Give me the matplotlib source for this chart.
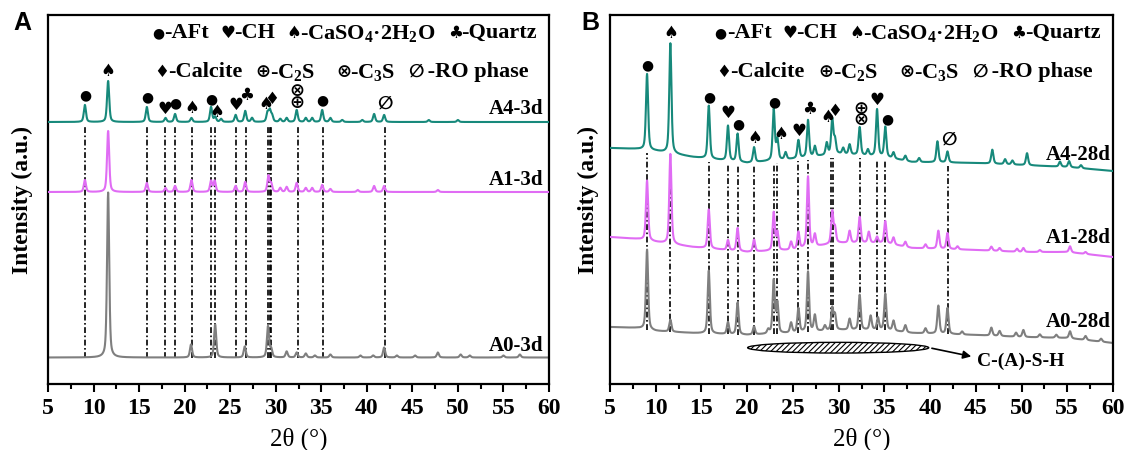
import numpy as np
import matplotlib
matplotlib.use('Agg')
from matplotlib import pyplot as plt
from matplotlib.patches import Ellipse
from matplotlib.ticker import MultipleLocator

plt.rcParams['font.family'] = ['Liberation Serif', 'DejaVu Sans']
plt.rcParams['font.weight'] = 'bold'
plt.rcParams['mathtext.fontset'] = 'custom'
plt.rcParams['mathtext.rm'] = 'Liberation Serif:bold'
plt.rcParams['mathtext.bf'] = 'Liberation Serif:bold'
plt.rcParams['mathtext.default'] = 'rm'
plt.rcParams['hatch.linewidth'] = 0.8

TEAL = '#17897b'
VIOLET = '#e06cf4'
GREY = '#7f7f7f'

TWO_THETA = np.linspace(5, 60, 5501)

# ---------------- panel A : 3 d ----------------
A4_3D_BASE = ([5, 60], [262, 262])
A4_3D_PEAKS = [(9.05, 17), (11.6, 41), (15.85, 15), (17.9, 4), (18.95, 8), (20.75, 4),
               (22.9, 15), (23.35, 5), (24.0, 3), (25.6, 7), (26.65, 11), (27.4, 4),
               (29.1, 9), (29.35, 11), (29.6, 6), (30.5, 3), (31.2, 4), (32.3, 12),
               (33.3, 4), (34.0, 4), (35.1, 12), (36.0, 4), (37.3, 2), (39.5, 2),
               (40.8, 8), (41.9, 7), (46.8, 2), (50.0, 2)]
A1_3D_BASE = ([5, 60], [192, 192])
A1_3D_PEAKS = [(9.05, 12), (11.6, 61), (15.85, 9), (17.9, 4), (18.95, 6), (20.75, 12),
               (22.9, 11), (23.3, 11), (25.6, 6), (26.65, 10), (29.2, 16), (29.5, 8),
               (30.5, 4), (31.2, 5), (32.3, 9), (33.3, 4), (34.0, 4), (35.1, 7),
               (36.0, 3), (39.0, 2), (40.8, 6), (41.9, 6), (47.8, 2)]
A0_3D_BASE = ([5, 60], [26.5, 26.5])
A0_3D_PEAKS = [(11.6, 165), (20.7, 13), (23.35, 33), (26.6, 11), (29.15, 31), (29.5, 8),
               (31.2, 6), (32.3, 5), (33.3, 4), (34.3, 2), (36.0, 3), (39.3, 2),
               (40.7, 2), (41.9, 10), (43.3, 2), (45.3, 2), (47.8, 5), (50.3, 3),
               (51.3, 2), (55.0, 2), (56.8, 3)]
A_LINES = [9.1, 15.9, 17.85, 18.9, 20.8, 22.92, 23.3, 25.64, 26.7, 29.14, 29.33, 29.53,
           32.4, 35.2, 42.0]
A_MARKS = [('●', 9.1, 289), ('♠', 11.6, 313), ('●', 15.85, 287), ('♥', 17.85, 275),
           ('●', 18.95, 281), ('♠', 20.75, 276), ('●', 22.9, 285), ('♠', 23.55, 272),
           ('♥', 25.6, 279), ('♣', 26.8, 289), ('♠', 28.95, 280), ('♦', 29.55, 285),
           ('⊗', 32.35, 293), ('⊕', 32.35, 281), ('●', 35.15, 284), ('∅', 42.0, 280)]
A_LABELS = [('A4-3d', 275), ('A1-3d', 204), ('A0-3d', 38)]

# ---------------- panel B : 28 d ----------------
BASE_X = [5, 8, 10, 14, 20, 25, 30, 35, 38, 45, 50, 55, 60]
A4_28D_BASE = (BASE_X, [236, 235, 233, 227, 221, 225, 230, 227, 222, 221, 219, 217, 213])
A4_28D_PEAKS = [(9.05, 76), (11.6, 110), (15.8, 53), (17.9, 35), (18.95, 28), (20.75, 15),
                (22.9, 51), (23.3, 20), (24.2, 7), (25.6, 18), (26.65, 37), (27.4, 10),
                (28.7, 12), (29.3, 35), (29.6, 14), (30.5, 6), (31.2, 10), (32.3, 28),
                (33.2, 6), (34.2, 47), (35.1, 30), (36.0, 6), (37.3, 5), (38.8, 4),
                (40.8, 21), (41.9, 11), (46.8, 14), (48.2, 5), (49.0, 4), (50.6, 12),
                (54.2, 5), (55.2, 6), (56.5, 3)]
A1_28D_BASE = (BASE_X, [147, 145, 142, 137, 132, 134, 141, 141, 136, 134, 132, 132, 127])
A1_28D_PEAKS = [(9.05, 60), (11.6, 90), (15.8, 39), (17.9, 10), (18.95, 23), (20.75, 12),
                (22.9, 38), (23.3, 18), (24.8, 8), (25.6, 17), (26.65, 71), (27.4, 12),
                (29.3, 32), (29.6, 15), (31.2, 12), (32.3, 26), (33.3, 11), (34.2, 6),
                (35.1, 22), (36.0, 7), (37.3, 5), (39.5, 4), (40.9, 18), (41.9, 16),
                (43.0, 3), (46.7, 4), (47.6, 3), (49.5, 3), (50.2, 4), (52.0, 2),
                (55.3, 6), (57.0, 2)]
A0_28D_BASE = (BASE_X, [57, 56, 53, 51, 49, 51, 54, 54, 51, 49, 47, 46, 41])
A0_28D_PEAKS = [(9.05, 80), (11.6, 12), (15.8, 63), (17.9, 12), (18.95, 32), (20.75, 8),
                (22.3, 4), (22.9, 53), (23.3, 30), (24.8, 10), (25.6, 24), (26.65, 60),
                (27.4, 16), (28.5, 5), (29.3, 22), (29.6, 15), (31.2, 11), (32.3, 35),
                (33.5, 14), (34.3, 12), (35.1, 36), (36.0, 10), (37.3, 7), (39.5, 5),
                (40.9, 28), (41.9, 26), (43.5, 3), (46.7, 8), (47.6, 5), (49.4, 4),
                (50.2, 7), (52.0, 3), (53.8, 3), (55.3, 7), (57.0, 4), (58.7, 3)]
B_LINES = [9.05, 11.6, 15.8, 17.9, 18.95, 20.75, 22.9, 23.3, 25.6, 26.65, 29.2, 29.4,
           32.3, 34.2, 35.1, 42.0]
B_MARKS = [('●', 9.1, 319), ('♠', 11.6, 351), ('●', 15.85, 287), ('♥', 17.9, 271),
           ('●', 19.05, 260), ('♠', 20.8, 246), ('●', 22.95, 282), ('♠', 23.7, 250),
           ('♥', 25.65, 253), ('♣', 26.8, 275), ('♠', 28.8, 267), ('♦', 29.6, 273),
           ('⊕', 32.4, 275), ('⊗', 32.4, 264), ('♥', 34.2, 284), ('●', 35.3, 265),
           ('∅', 42.1, 244)]
B_LABELS = [('A4-28d', 229), ('A1-28d', 146), ('A0-28d', 62)]

# phase key: symbol, name, 2-theta of the symbol
KEY_ROW_1 = [('●', '-AFt', 17.1), ('♥', '-CH', 24.7), ('♠', '-CaSO$_4$·2H$_2$O', 32.0),
             ('♣', '-Quartz', 49.7)]
KEY_ROW_2 = [('♦', '-Calcite', 17.45), ('⊕', '-C$_2$S', 28.65), ('⊗', '-C$_3$S', 37.5),
             ('∅', ' -RO phase', 45.4)]
KEY_Y = [350.7, 312]

SYM_SIZE = {'●': 10, '♥': 12, '♠': 12, '♣': 12, '♦': 12, '⊕': 13, '⊗': 13, '∅': 13}


def pattern(base, peaks, fwhm=0.28):
    y = np.interp(TWO_THETA, base[0], base[1])
    for pos, h in peaks:
        d = (TWO_THETA - pos) / (fwhm / 2)
        y = y + h * (0.5 / (1 + d ** 2) + 0.5 * np.exp(-np.log(2) * d ** 2))
    return y


def symbol(ax, x, y, sym):
    ax.text(x, y, sym, ha='center', va='center', fontsize=SYM_SIZE[sym],
            family='DejaVu Sans', zorder=6)


def draw_panel(ax, traces, lines, marks, labels, label_x):
    top_base, bottom_base = traces[0][0], traces[-1][0]
    for x in lines:
        y0 = np.interp(x, bottom_base[0], bottom_base[1])
        y1 = np.interp(x, top_base[0], top_base[1]) - 3
        ax.plot([x, x], [y0, y1], color='black', lw=1.2,
                linestyle=(0, (3.5, 1.5, 1, 1.5)), zorder=1)
    for z, (base, peaks, color) in enumerate(reversed(traces)):
        ax.plot(TWO_THETA, pattern(base, peaks), color=color, lw=1.5, zorder=2 + z)
    for sym, x, y in marks:
        symbol(ax, x, y, sym)
    for text, y in labels:
        ax.text(label_x, y, text, ha='right', va='center', fontsize=15)
    for row, y in zip((KEY_ROW_1, KEY_ROW_2), KEY_Y):
        for sym, name, x in row:
            symbol(ax, x, y, sym)
            ax.text(x + 0.7, y, name, ha='left', va='center', fontsize=16)

    ax.set_xlim(5, 60)
    ax.set_ylim(0, 369)
    ax.set_yticks([])
    ax.xaxis.set_major_locator(MultipleLocator(5))
    ax.xaxis.set_minor_locator(MultipleLocator(2.5))
    ax.tick_params(axis='x', which='major', direction='out', length=6, width=1.5,
                   labelsize=17, pad=4)
    ax.tick_params(axis='x', which='minor', direction='out', length=3.5, width=1.5)
    for sp in ax.spines.values():
        sp.set_linewidth(1.6)
    ax.set_xlabel('2θ (°)', fontsize=18, labelpad=6)


fig = plt.figure(figsize=(11.29, 4.5), dpi=100)
axA = fig.add_axes([48 / 1129, 66 / 450, 501 / 1129, 369 / 450])
axB = fig.add_axes([610 / 1129, 66 / 450, 503 / 1129, 369 / 450])

draw_panel(axA, [(A4_3D_BASE, A4_3D_PEAKS, TEAL), (A1_3D_BASE, A1_3D_PEAKS, VIOLET),
                 (A0_3D_BASE, A0_3D_PEAKS, GREY)], A_LINES, A_MARKS, A_LABELS, 59.4)
draw_panel(axB, [(A4_28D_BASE, A4_28D_PEAKS, TEAL), (A1_28D_BASE, A1_28D_PEAKS, VIOLET),
                 (A0_28D_BASE, A0_28D_PEAKS, GREY)], B_LINES, B_MARKS, B_LABELS, 59.8)

# amorphous C-(A)-S-H hump
axB.add_patch(Ellipse((29.95, 36.3), 19.8, 10.7, facecolor='white', edgecolor='black',
                      hatch='//////', lw=1, zorder=6))
axB.annotate('', xy=(44.8, 27), xytext=(39.9, 36.3),
             arrowprops=dict(arrowstyle='-|>', color='black', lw=1.2, mutation_scale=12),
             zorder=6)
axB.text(45.1, 22.3, 'C-(A)-S-H', fontsize=14, va='center')

for x in (22, 588):
    fig.text(x / 1129, 1 - 200 / 450, 'Intensity (a.u.)', rotation=90, ha='center',
             va='center', fontsize=17)
fig.text(22 / 1129, 1 - 23 / 450, 'A', family='Liberation Sans', fontsize=18,
         ha='center', va='center')
fig.text(590 / 1129, 1 - 23 / 450, 'B', family='Liberation Sans', fontsize=18,
         ha='center', va='center')

fig.savefig('out.png', dpi=100)
